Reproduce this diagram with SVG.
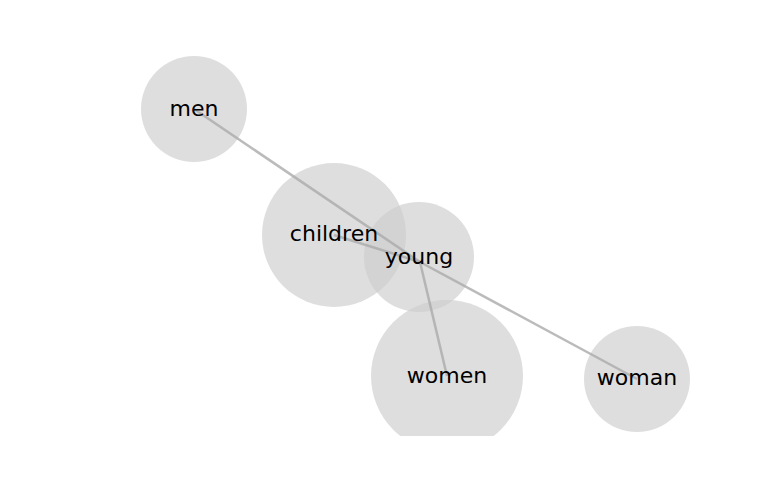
<svg xmlns="http://www.w3.org/2000/svg" width="768" height="500" viewBox="0 0 768 500">
<style>
.node circle{fill:#cccccc;fill-opacity:0.65}
.node text{font-family:"DejaVu Sans",sans-serif;font-size:22px;fill:#000;text-anchor:middle}
.edge{stroke:#aaaaaa;stroke-width:2.5;stroke-opacity:0.8;fill:none}
</style>
<defs><clipPath id="plot"><rect x="0" y="0" width="768" height="436"/></clipPath></defs>
<rect width="768" height="500" fill="#fff"/>
<g clip-path="url(#plot)">
<g id="node-men" class="node"><circle cx="194" cy="109" r="53"/></g>
<g id="node-children" class="node"><circle cx="334" cy="235" r="72"/></g>
<g id="node-young" class="node"><circle cx="419" cy="257" r="55"/></g>
<g id="node-women" class="node"><circle cx="447" cy="376" r="76"/></g>
<g id="node-woman" class="node"><circle cx="637" cy="379" r="53"/></g>
</g>
<g id="edges">
<line class="edge" x1="194" y1="109" x2="420" y2="262"/>
<line class="edge" x1="334" y1="235" x2="420" y2="262"/>
<line class="edge" x1="447" y1="376" x2="420" y2="262"/>
<line class="edge" x1="637" y1="379" x2="420" y2="262"/>
</g>
<g class="node">
<text id="label-men" x="194" y="116">men</text>
<text id="label-children" x="334" y="241">children</text>
<text id="label-young" x="419" y="264">young</text>
<text id="label-women" x="447" y="383">women</text>
<text id="label-woman" x="637" y="385">woman</text>
</g>
</svg>
